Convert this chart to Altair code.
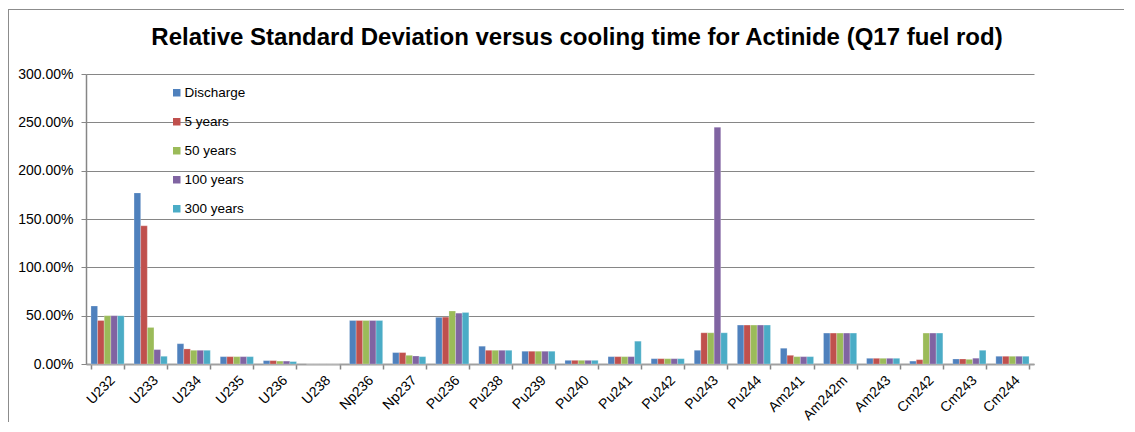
import altair as alt
import pandas as pd

nuclides = ["U232", "U233", "U234", "U235", "U236", "U238", "Np236", "Np237",
            "Pu236", "Pu238", "Pu239", "Pu240", "Pu241", "Pu242", "Pu243", "Pu244",
            "Am241", "Am242m", "Am243", "Cm242", "Cm243", "Cm244"]
series = ["Discharge", "5 years", "50 years", "100 years", "300 years"]
colors = ["#4F81BD", "#C0504D", "#9BBB59", "#8064A2", "#4BACC6"]

# relative standard deviation, in percent
discharge = [60.0, 177.0, 21.0, 7.6, 3.5, 0.0, 45.0, 11.8, 48.3, 18.4, 13.2, 3.8,
             7.6, 5.5, 14.2, 40.3, 16.3, 32.0, 5.9, 3.0, 5.2, 8.0]
years5 = [45.0, 143.0, 15.6, 7.6, 3.5, 0.0, 45.0, 11.8, 48.5, 14.2, 13.2, 3.8,
          7.6, 5.5, 32.3, 40.3, 9.0, 32.0, 5.9, 4.5, 5.2, 8.0]
years50 = [50.0, 37.8, 14.2, 7.6, 3.0, 0.0, 45.0, 9.0, 54.8, 14.2, 13.2, 3.8,
           7.6, 5.5, 32.3, 40.3, 7.6, 32.0, 5.9, 32.0, 4.8, 8.0]
years100 = [50.0, 14.9, 14.2, 7.6, 3.0, 0.0, 45.0, 8.3, 52.6, 14.2, 13.2, 3.8,
            7.6, 5.5, 245.0, 40.3, 7.6, 32.0, 5.9, 32.0, 6.0, 8.0]
years300 = [50.0, 8.0, 14.2, 7.6, 2.5, 0.0, 45.0, 7.6, 53.3, 14.2, 13.2, 3.8,
            23.6, 5.5, 32.3, 40.3, 7.6, 32.0, 5.9, 32.0, 14.2, 8.0]
y_ticks = [0, 0.5, 1.0, 1.5, 2.0, 2.5, 3.0]

rows = []
for s, vals in zip(series, [discharge, years5, years50, years100, years300]):
    for n, v in zip(nuclides, vals):
        rows.append({"nuclide": n, "series": s, "value": v / 100.0})
df = pd.DataFrame(rows)

FONT = "Liberation Sans"
GRID = "#868686"

bars = alt.Chart(df).mark_bar(stroke="#ffffff", strokeWidth=0.4, strokeOpacity=0.6).encode(
    x=alt.X("nuclide:N", sort=nuclides, title=None,
            scale=alt.Scale(paddingInner=0.23, paddingOuter=0.115),
            axis=alt.Axis(labelAngle=-45, labelFont=FONT, labelFontSize=14,
                          labelColor="#000000", labelPadding=4, tickBand="extent",
                          tickSize=5, tickColor=GRID, domainColor="#a0a0a0",
                          domainWidth=2, tickWidth=1.5, grid=False)),
    xOffset=alt.XOffset("series:N", sort=series),
    y=alt.Y("value:Q", title=None,
            scale=alt.Scale(domain=[0, 3.0], nice=False),
            axis=alt.Axis(values=y_ticks, format=".2%", labelFont=FONT,
                          labelFontSize=14, labelColor="#000000", labelPadding=8,
                          tickSize=5, tickColor=GRID, domainColor=GRID,
                          gridColor=GRID, gridWidth=1, domainWidth=1.5)),
    color=alt.Color("series:N", sort=series,
                    scale=alt.Scale(domain=series, range=colors),
                    legend=alt.Legend(title=None, orient="none", legendX=84, legendY=12,
                                      symbolType="square", symbolSize=56,
                                      symbolStrokeWidth=0, labelFont=FONT,
                                      labelFontSize=13.5, labelColor="#000000",
                                      labelOffset=1, rowPadding=14)),
)

frame = alt.Chart(df).mark_rect(fill=None, stroke="#8c8c8c", strokeWidth=1).encode(
    x=alt.value(-77.5), x2=alt.value(1200), y=alt.value(-64.5), y2=alt.value(500))

chart = alt.layer(frame, bars).properties(
    width=948, height=290,
    autosize=alt.AutoSizeParams(type="none"),
    padding={"left": 78, "top": 66, "right": 90, "bottom": 58},
    title=alt.Title("Relative Standard Deviation versus cooling time for Actinide (Q17 fuel rod)",
                    font=FONT, fontSize=24, fontWeight="bold",
                    color="#000000", anchor="middle", dx=17, dy=88, baseline="alphabetic",
                    offset=28),
).configure_view(stroke=None)

chart.save("out.html", embed_options={"renderer": "svg", "actions": False})
